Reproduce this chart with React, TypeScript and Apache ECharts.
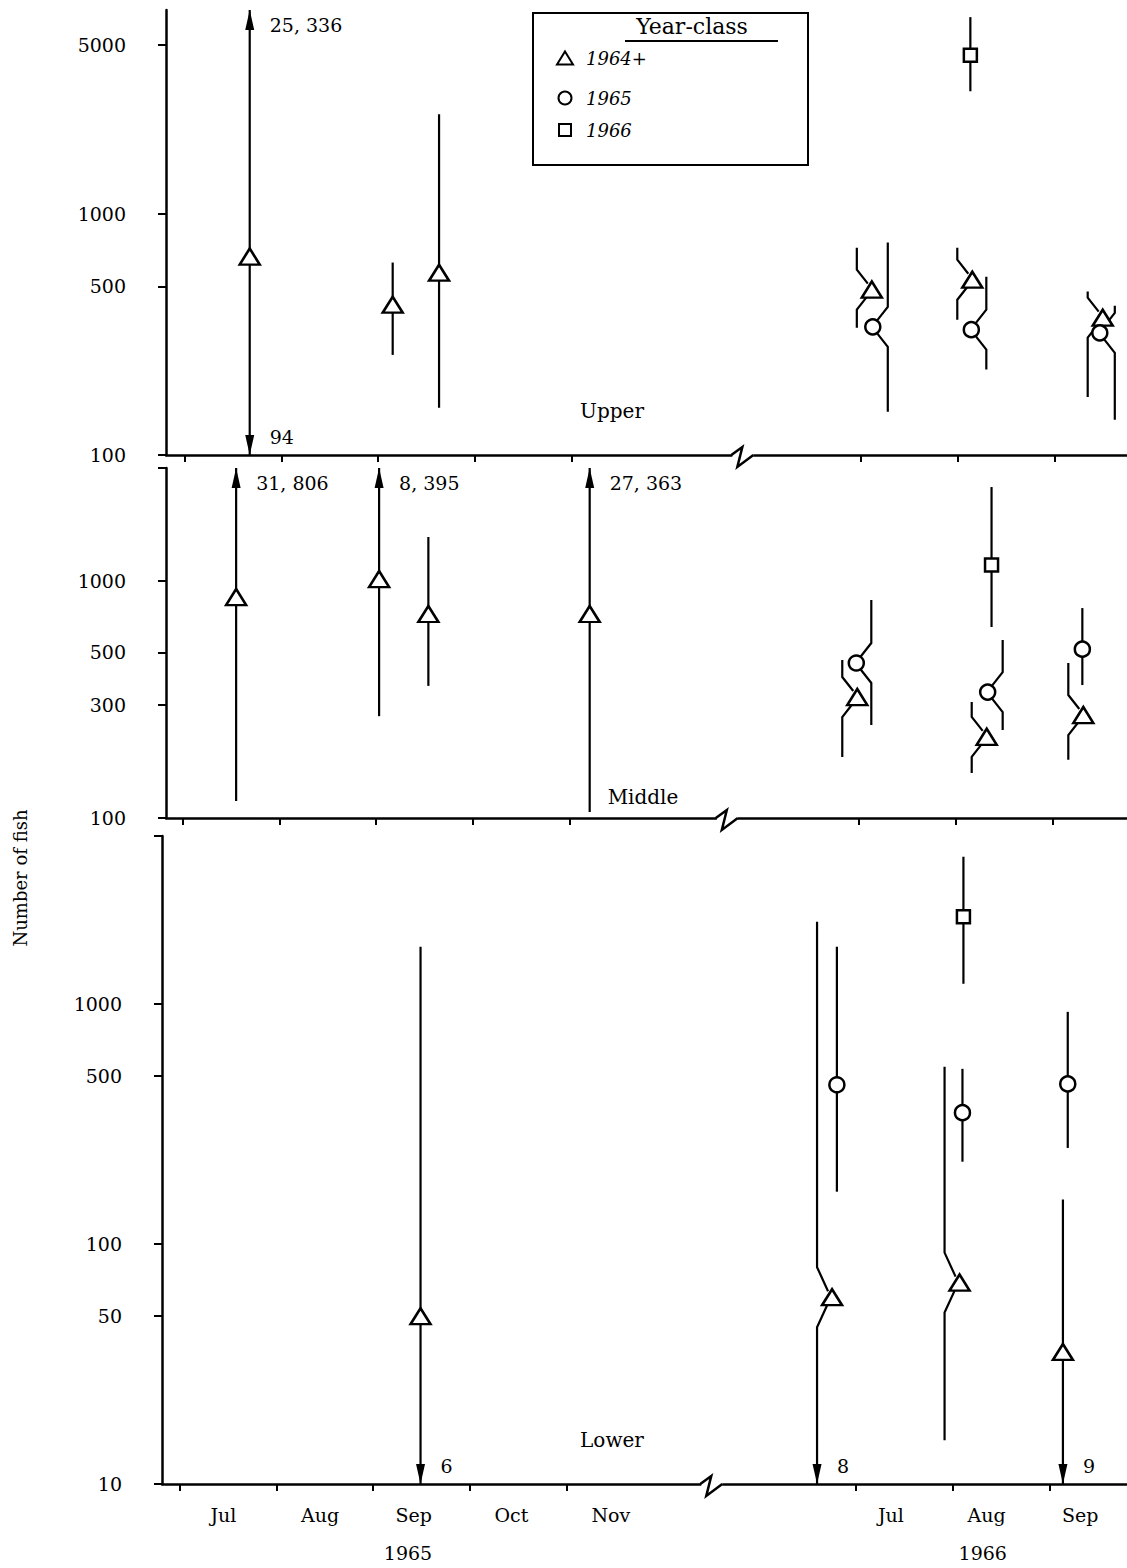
import React, { useEffect, useRef } from "react";
import * as echarts from "echarts";

// ---- data ----
// x positions are in "month" units of the broken time axis:
// 0 = 1 Jul 1965 ... 4 = 1 Nov 1965 | break | 7 = 1 Jul 1966, 8 = 1 Aug 1966, 9 = 1 Sep 1966
// each point: [x, year-class, estimate, lower limit, upper limit, bar side (-1 left, 0 centre, 1 right)]
const upperPoints: [number, string, number, number, number, number][] = [
  [0.67, "1964+", 665, 94, 25336, 0],
  [2.15, "1964+", 420, 260, 628, 0],
  [2.63, "1964+", 570, 157, 2585, 0],
  [7.11, "1964+", 485, 337, 724, -1],
  [7.12, "1965", 340, 151, 760, 1],
  [8.15, "1964+", 533, 364, 724, -1],
  [8.14, "1965", 331, 226, 549, 1],
  [8.13, "1966", 4545, 3222, 6540, 0],
  [9.5, "1964+", 371, 174, 476, -1],
  [9.47, "1965", 321, 140, 416, 1],
];
const middlePoints: [number, string, number, number, number, number][] = [
  [0.55, "1964+", 856, 118, 31806, 0],
  [2.03, "1964+", 1020, 269, 8395, 0],
  [2.54, "1964+", 726, 361, 1534, 0],
  [4.21, "1964+", 726, 106, 27363, 0],
  [6.97, "1965", 451, 247, 832, 1],
  [6.98, "1964+", 324, 181, 464, -1],
  [8.37, "1966", 1169, 640, 2493, 0],
  [8.33, "1965", 340, 235, 564, 1],
  [8.32, "1964+", 220, 155, 309, -1],
  [9.31, "1965", 516, 364, 769, 0],
  [9.32, "1964+", 272, 176, 451, -1],
];
const lowerPoints: [number, string, number, number, number, number][] = [
  [2.49, "1964+", 50, 6, 1729, 0],
  [6.75, "1964+", 60, 8, 2196, -1],
  [6.8, "1965", 460, 165, 1729, 0],
  [8.07, "1964+", 69, 15.2, 547, -1],
  [8.1, "1965", 352, 220, 536, 0],
  [8.11, "1966", 2305, 1212, 4098, 0],
  [9.14, "1964+", 35.5, 9, 153, 0],
  [9.19, "1965", 464, 251, 926, 0],
];

const panelNames = ["Upper", "Middle", "Lower"];
const yMins = [100, 100, 10];
const yMaxs = [7000, 3000, 5000];
const upperTicks = [100, 500, 1000, 5000];
const middleTicks = [100, 300, 500, 1000];
const lowerTicks = [10, 50, 100, 500, 1000];

const yearClasses = ["1964+", "1965", "1966"];
const monthStarts = [0, 1, 2, 3, 4, 7, 8, 9];
const monthLabels = ["Jul", "Aug", "Sep", "Oct", "Nov", "Jul", "Aug", "Sep"];
const monthLabelAt = [0.45, 1.45, 2.42, 3.43, 4.46, 7.36, 8.35, 9.32];
const yearLabels = ["1965", "1966"];
const yearLabelAt = [2.36, 8.31];
const breakAt = [5.78, 5.64, 5.51];

// ---- layout / style ----
const W = 1127;
const H = 1568;
const PX_PER_MONTH = 96.6;
const FONT = '"DejaVu Serif", serif';
const layout = [
  { left: 166, top: 10, height: 445, u0: 185, kinkLen: 20, titleX: 612, titleY: 411 },
  { left: 166, top: 468, height: 350, u0: 183, kinkLen: 20, titleX: 643, titleY: 797 },
  { left: 162, top: 836, height: 648, u0: 180, kinkLen: 30, titleX: 612, titleY: 1440 },
];
const symbols: Record<string, { symbol: string; size: number | number[] }> = {
  "1964+": { symbol: "triangle", size: [20, 16] },
  "1965": { symbol: "circle", size: 15 },
  "1966": { symbol: "rect", size: 13 },
};
const legendRowY = [60, 100, 132];

const fmtNum = (n: number) => String(Math.round(n)).replace(/\B(?=(\d{3})+(?!\d))/g, ", ");

function buildOption() {
  const allPoints = [upperPoints, middlePoints, lowerPoints];
  const allTicks = [upperTicks, middleTicks, lowerTicks];
  const grid = layout.map((l) => ({ left: l.left, top: l.top, height: l.height, right: 0 }));
  const xRange = layout.map((l) => {
    const min = -(l.u0 - l.left) / PX_PER_MONTH;
    return { min, max: min + (W - l.left) / PX_PER_MONTH };
  });
  const axisLineStyle = { color: "#000", width: 2.5 };

  const xAxis: any[] = layout.map((l, i) => ({
    type: "value",
    gridIndex: i,
    min: xRange[i].min,
    max: xRange[i].max,
    position: "bottom",
    axisLine: { show: true, onZero: false, lineStyle: axisLineStyle },
    axisTick: { show: true, inside: false, length: 7, lineStyle: { color: "#000", width: 2 }, customValues: monthStarts },
    axisLabel: i === 2
      ? {
          show: true,
          customValues: monthLabelAt,
          hideOverlap: false,
          margin: 21,
          fontSize: 19,
          fontFamily: FONT,
          color: "#000",
          formatter: (v: number) => {
            const k = monthLabelAt.findIndex((m) => Math.abs(m - v) < 1e-6);
            return k >= 0 ? monthLabels[k] : "";
          },
        }
      : { show: false },
    splitLine: { show: false },
  }));
  xAxis.push({
    type: "value",
    gridIndex: 2,
    min: xRange[2].min,
    max: xRange[2].max,
    position: "bottom",
    offset: 0,
    axisLine: { show: false, onZero: false },
    axisTick: { show: false },
    axisLabel: {
      show: true,
      customValues: yearLabelAt,
      hideOverlap: false,
      margin: 59,
      fontSize: 19,
      fontFamily: FONT,
      color: "#000",
      formatter: (v: number) => {
        const k = yearLabelAt.findIndex((m) => Math.abs(m - v) < 1e-6);
        return k >= 0 ? yearLabels[k] : "";
      },
    },
    splitLine: { show: false },
  });

  const yAxis = layout.map((l, i) => ({
    type: "log",
    logBase: 10,
    gridIndex: i,
    min: yMins[i],
    max: yMaxs[i],
    axisLine: { show: true, onZero: false, lineStyle: axisLineStyle },
    axisTick: {
      show: true,
      inside: false,
      length: 8,
      lineStyle: { color: "#000", width: 2 },
      customValues: i === 0 ? allTicks[i] : [...allTicks[i], yMaxs[i]],
    },
    axisLabel: {
      show: true,
      customValues: allTicks[i],
      margin: 40,
      fontSize: 19,
      fontFamily: FONT,
      color: "#000",
      formatter: (v: number) => String(Math.round(v)),
    },
    splitLine: { show: false },
    minorSplitLine: { show: false },
  }));

  const series: any[] = [];
  layout.forEach((l, i) => {
    const pts = allPoints[i];
    const ymin = yMins[i];
    const ymax = yMaxs[i];
    series.push({
      type: "custom",
      xAxisIndex: i,
      yAxisIndex: i,
      z: 2,
      clip: false,
      silent: true,
      data: pts.map((p) => [p[0], p[2], p[3], p[4], p[5]]),
      encode: { x: 0, y: 1 },
      renderItem: (_params: any, api: any) => {
        const x = api.value(0);
        const v = api.value(1);
        const lo = api.value(2);
        const hi = api.value(3);
        const k = api.value(4);
        const c = api.coord([x, v]);
        const top = api.coord([x, Math.min(hi, ymax)])[1];
        const bot = api.coord([x, Math.max(lo, ymin)])[1];
        const lx = c[0] + k * 15;
        const ls = { stroke: "#000", lineWidth: 2.2, fill: null };
        const children: any[] = [];
        if (k !== 0) {
          children.push({
            type: "polyline",
            shape: { points: [[lx, top], [lx, c[1] - l.kinkLen], [c[0] + k * 4, c[1] - 6]] },
            style: ls,
          });
          children.push({
            type: "polyline",
            shape: { points: [[c[0] + k * 4, c[1] + 6], [lx, c[1] + l.kinkLen], [lx, bot]] },
            style: ls,
          });
        } else {
          children.push({ type: "line", shape: { x1: lx, y1: top, x2: lx, y2: bot }, style: ls });
        }
        const txt = (t: string, tx: number, ty: number) => ({
          type: "text",
          x: tx,
          y: ty,
          style: { text: t, fontSize: 19, fontFamily: FONT, fill: "#000", align: "left", verticalAlign: "middle" },
        });
        if (hi > ymax) {
          children.push({
            type: "polygon",
            shape: { points: [[lx, top], [lx - 4.5, top + 20], [lx + 4.5, top + 20]] },
            style: { fill: "#000" },
          });
          children.push(txt(fmtNum(hi), lx + 20, top + 15));
        }
        if (lo < ymin) {
          children.push({
            type: "polygon",
            shape: { points: [[lx, bot], [lx - 4.5, bot - 20], [lx + 4.5, bot - 20]] },
            style: { fill: "#000" },
          });
          children.push(txt(fmtNum(lo), lx + 20, bot - 18));
        }
        return { type: "group", children };
      },
    });
    // axis break mark
    series.push({
      type: "custom",
      xAxisIndex: i,
      yAxisIndex: i,
      z: 3,
      clip: false,
      silent: true,
      data: [[breakAt[i], ymin]],
      encode: { x: 0, y: 1 },
      renderItem: (_params: any, api: any) => {
        const c = api.coord([api.value(0), api.value(1)]);
        return {
          type: "group",
          children: [
            { type: "rect", shape: { x: c[0] - 11, y: c[1] - 3, width: 21, height: 6 }, style: { fill: "#fff" } },
            {
              type: "polyline",
              shape: { points: [[c[0] - 12, c[1]], [c[0] - 1, c[1] - 8], [c[0] - 6, c[1] + 12], [c[0] + 10, c[1]]] },
              style: { stroke: "#000", lineWidth: 2.5, fill: null },
            },
          ],
        };
      },
    });
    yearClasses.forEach((cls) => {
      const d = pts.filter((p) => p[1] === cls).map((p) => [p[0], p[2]]);
      series.push({
        name: cls,
        type: "scatter",
        xAxisIndex: i,
        yAxisIndex: i,
        z: 4,
        silent: true,
        symbol: symbols[cls].symbol,
        symbolSize: symbols[cls].size,
        itemStyle: { color: "#fff", borderColor: "#000", borderWidth: 2.5, opacity: 1 },
        data: d,
      });
    });
  });

  const legendIconSize = [
    [16, 13],
    [13, 13],
    [12, 12],
  ];
  const legend = yearClasses.map((cls, i) => ({
    data: [cls],
    left: 564 - legendIconSize[i][0] / 2,
    top: legendRowY[i] - 11,
    padding: 0,
    itemWidth: legendIconSize[i][0],
    itemHeight: legendIconSize[i][1],
    selectedMode: false,
    textStyle: {
      fontFamily: FONT,
      fontSize: 18,
      fontStyle: "italic",
      color: "#000",
      padding: [0, 0, 0, 585 - (564 + legendIconSize[i][0] / 2) - 5],
    },
  }));

  const graphic: any[] = [
    { type: "rect", shape: { x: 533, y: 13, width: 275, height: 152 }, style: { fill: "none", stroke: "#000", lineWidth: 2 } },
    {
      type: "text",
      x: 692,
      y: 26,
      style: { text: "Year-class", fontSize: 22, fontFamily: FONT, fill: "#000", align: "center", verticalAlign: "middle" },
    },
    { type: "line", shape: { x1: 625, y1: 41, x2: 778, y2: 41 }, style: { stroke: "#000", lineWidth: 2 } },
    {
      type: "text",
      x: 20,
      y: 878,
      rotation: Math.PI / 2,
      style: { text: "Number of fish", fontSize: 18, fontFamily: FONT, fill: "#000", align: "center", verticalAlign: "middle" },
    },
    ...layout.map((l, i) => ({
      type: "text",
      x: l.titleX,
      y: l.titleY,
      style: { text: panelNames[i], fontSize: 20, fontFamily: FONT, fill: "#000", align: "center", verticalAlign: "middle" },
    })),
  ];

  return {
    animation: false,
    backgroundColor: "#fff",
    textStyle: { fontFamily: FONT },
    grid,
    xAxis,
    yAxis,
    legend,
    graphic,
    series,
  };
}

export default function App() {
  const ref = useRef<HTMLDivElement>(null);
  useEffect(() => {
    if (!ref.current) return;
    const chart = echarts.init(ref.current, null, { renderer: "svg" });
    chart.setOption(buildOption() as any);
    return () => chart.dispose();
  }, []);
  return (
    <div
      ref={ref}
      style={{ position: "absolute", left: 0, top: 0, width: W, height: H, background: "#fff" }}
    />
  );
}
